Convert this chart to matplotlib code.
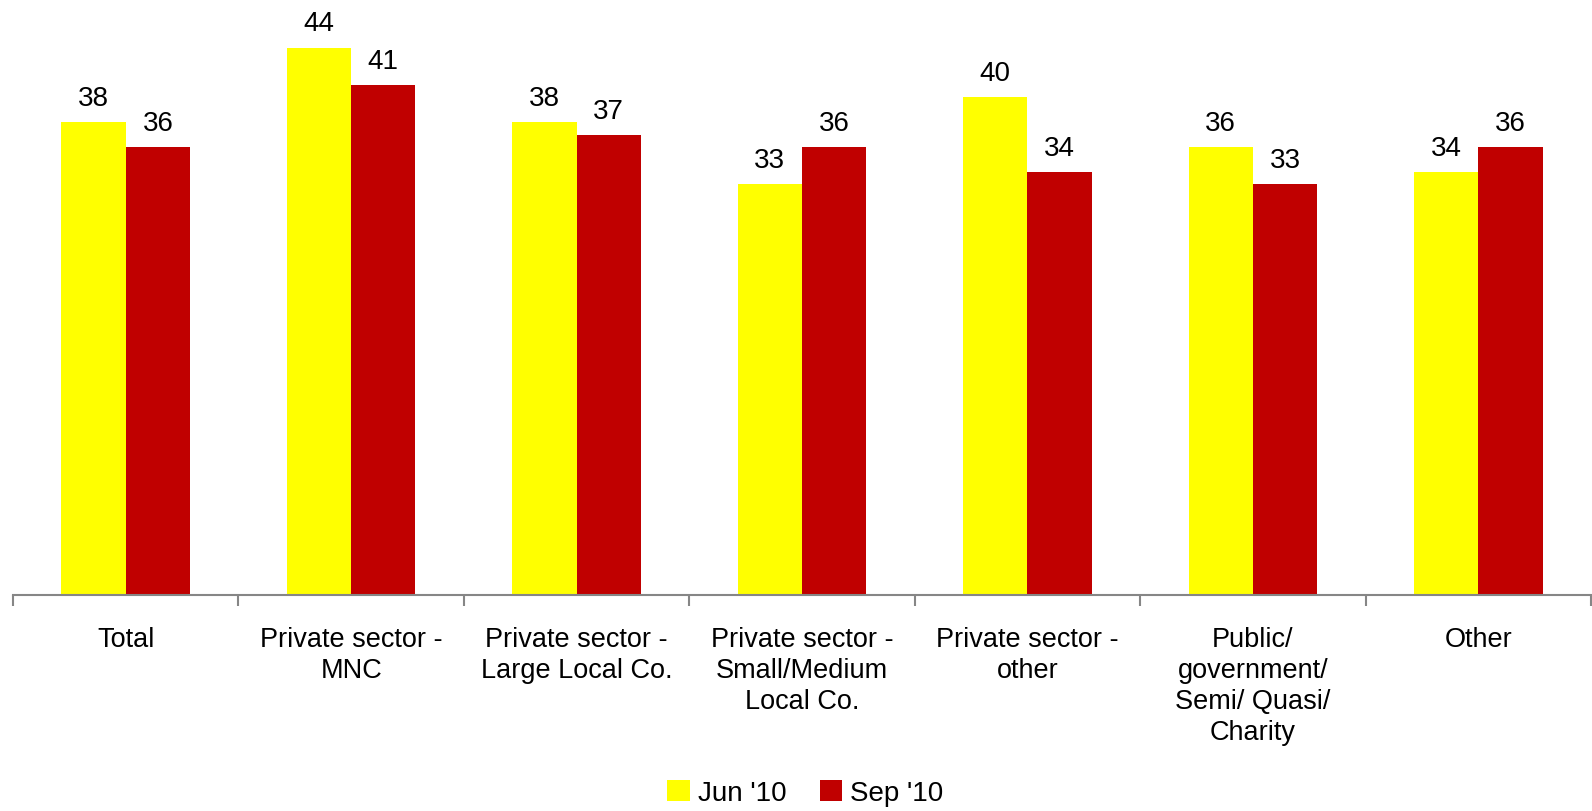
import matplotlib
matplotlib.use("Agg")
import matplotlib.pyplot as plt
import numpy as np

categories = ["Total", "Private sector -\nMNC", "Private sector -\nLarge Local Co.",
              "Private sector -\nSmall/Medium\nLocal Co.", "Private sector -\nother",
              "Public/\ngovernment/\nSemi/ Quasi/\nCharity", "Other"]
jun10 = [38, 44, 38, 33, 40, 36, 34]
sep10 = [36, 41, 37, 36, 34, 33, 36]
series_names = ["Jun '10", "Sep '10"]

plt.rcParams['font.family'] = ['Liberation Sans', 'DejaVu Sans']

fig = plt.figure(figsize=(15.92, 8.12), dpi=100)
ax = fig.add_axes([13/1592, 1 - 596/812, 1578/1592, 596/812])

x = np.arange(len(categories))
w = 0.285
b1 = ax.bar(x - w/2, jun10, w, color="#FFFF00", label=series_names[0])
b2 = ax.bar(x + w/2, sep10, w, color="#C00000", label=series_names[1])

for bars, vals in ((b1, jun10), (b2, sep10)):
    for r, v in zip(bars, vals):
        ax.annotate(f"{v}", (r.get_x() + r.get_width()/2, r.get_height()),
                    xytext=(0, 8), textcoords="offset points",
                    ha="center", va="bottom", fontsize=20, color="black")

ax.set_xlim(-0.5, len(categories) - 0.5)
ax.set_ylim(0, 47.9)

for s in ["top", "right", "left"]:
    ax.spines[s].set_visible(False)
ax.spines["bottom"].set_color("#868686")
ax.spines["bottom"].set_linewidth(1.5)
ax.set_yticks([])

ax.set_xticks(x)
ax.set_xticklabels(categories, fontsize=19.5, linespacing=1.24, va="top")
ax.tick_params(axis="x", which="major", length=0, pad=22.5)
ax.set_xticks(np.arange(len(categories) + 1) - 0.5, minor=True)
ax.tick_params(axis="x", which="minor", length=8, width=1.5, color="#868686")

leg = fig.legend(loc="center", bbox_to_anchor=(0.506, 0.022), ncol=2, frameon=False,
                 fontsize=20, handlelength=0.8, handleheight=0.8, handletextpad=0.3,
                 columnspacing=1.2)

fig.savefig("out.png", dpi=100)
